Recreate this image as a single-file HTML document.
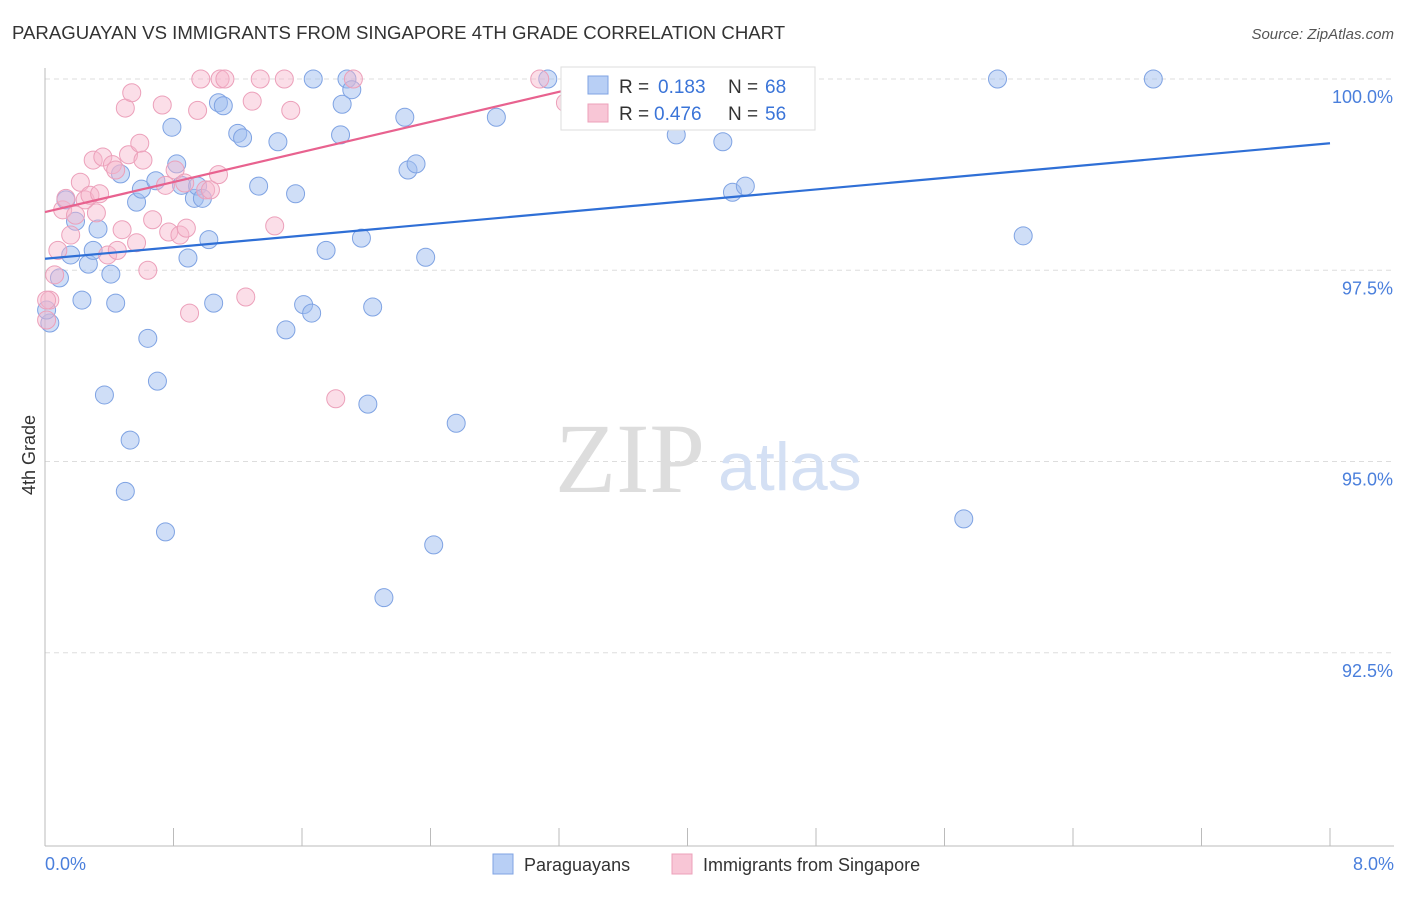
<!DOCTYPE html>
<html><head><meta charset="utf-8"><style>
body{margin:0;background:#fff;font-family:"Liberation Sans",sans-serif;}
</style></head><body>
<svg width="1406" height="892" xmlns="http://www.w3.org/2000/svg">
<text x="12" y="39" font-size="18.6" fill="#333">PARAGUAYAN VS IMMIGRANTS FROM SINGAPORE 4TH GRADE CORRELATION CHART</text>
<text x="1394" y="39" font-size="15" fill="#555" font-style="italic" text-anchor="end">Source: ZipAtlas.com</text>
<g id="grid"></g>
<line x1="45" y1="68" x2="45" y2="846" stroke="#bbb"/>
<line x1="45" y1="846" x2="1394" y2="846" stroke="#bbb"/>
<text x="35" y="455" font-size="18" fill="#333" transform="rotate(-90 35 455)" text-anchor="middle">4th Grade</text>
<text x="45" y="870" font-size="18" fill="#4a7fdc">0.0%</text>
<text x="1394" y="870" font-size="18" fill="#4a7fdc" text-anchor="end">8.0%</text>
<text x="555" y="492" font-size="100" fill="#ddd" font-family="Liberation Serif,serif">ZIP</text>
<text x="718" y="490" font-size="68" fill="#d4e0f4">atlas</text>
<g id="pts"></g>
<g id="lines"></g>
<g>
<rect x="561" y="67" width="254" height="63" fill="#fff" stroke="#ddd"/>
<rect x="588" y="76" width="20" height="18" fill="#b8cff5" stroke="#7fa3e3"/>
<text x="619" y="93" font-size="19" fill="#333">R =</text>
<text x="658" y="93" font-size="19" fill="#3a74d8">0.183</text>
<text x="728" y="93" font-size="19" fill="#333">N =</text>
<text x="765" y="93" font-size="19" fill="#3a74d8">68</text>
<rect x="588" y="104" width="20" height="18" fill="#f8c6d6" stroke="#eca0ba"/>
<text x="619" y="120" font-size="19" fill="#333">R =</text>
<text x="654" y="120" font-size="19" fill="#3a74d8">0.476</text>
<text x="728" y="120" font-size="19" fill="#333">N =</text>
<text x="765" y="120" font-size="19" fill="#3a74d8">56</text>
</g>
<g>
<rect x="493" y="854" width="20" height="20" fill="#b8cff5" stroke="#7fa3e3"/>
<text x="524" y="871" font-size="18" fill="#333">Paraguayans</text>
<rect x="672" y="854" width="20" height="20" fill="#f8c6d6" stroke="#eca0ba"/>
<text x="703" y="871" font-size="18" fill="#333">Immigrants from Singapore</text>
</g>
</svg>
<script>
const yTicks=[100,97.5,95,92.5];
const yTickLabels=["100.0%","97.5%","95.0%","92.5%"];
const xTicks=[0,0.8,1.6,2.4,3.2,4,4.8,5.6,6.4,7.2,8];
const blueX=[0.03,0.09,0.13,0.16,0.19,0.23,0.27,0.30,0.33,0.37,0.41,0.44,0.47,0.50,0.53,0.57,0.60,0.64,0.69,0.70,0.75,0.79,0.82,0.85,0.89,0.93,0.95,0.98,1.02,1.05,1.08,1.11,1.20,1.23,1.33,1.45,1.50,1.56,1.61,1.66,1.67,1.75,1.84,1.85,1.88,1.91,1.97,2.01,2.04,2.11,2.24,2.26,2.31,2.37,2.42,2.56,2.81,3.13,3.41,3.93,4.22,4.28,4.36,5.72,5.93,6.09,6.90,0.01];
const blueY=[96.81,97.40,98.42,97.70,98.14,97.11,97.58,97.76,98.04,95.87,97.45,97.07,98.76,94.61,95.28,98.39,98.56,96.61,98.67,96.05,94.08,99.37,98.89,98.61,97.66,98.44,98.60,98.44,97.90,97.07,99.69,99.65,99.29,99.23,98.60,99.18,96.72,98.50,97.05,96.94,100,97.76,99.27,99.67,100,99.86,97.92,95.75,97.02,93.22,99.50,98.81,98.89,97.67,93.91,95.50,99.50,100,99.69,99.27,99.18,98.52,98.60,94.25,100,97.95,100,96.98];
const pinkX=[0.01,0.03,0.06,0.08,0.11,0.13,0.16,0.19,0.22,0.25,0.28,0.30,0.32,0.34,0.36,0.39,0.42,0.44,0.45,0.48,0.50,0.52,0.54,0.57,0.59,0.61,0.64,0.67,0.73,0.75,0.77,0.81,0.84,0.87,0.88,0.90,0.95,0.97,1.00,1.03,1.08,1.09,1.12,1.25,1.29,1.34,1.43,1.49,1.53,1.81,1.92,3.08,3.24,3.68,4.61,0.01];
const pinkY=[96.85,97.11,97.44,97.76,98.29,98.44,97.96,98.22,98.65,98.42,98.48,98.94,98.25,98.50,98.98,97.70,98.88,98.81,97.76,98.03,99.62,99.01,99.82,97.86,99.16,98.94,97.50,98.16,99.66,98.61,98.00,98.81,97.96,98.64,98.05,96.94,99.59,100,98.55,98.55,98.75,100,100,97.15,99.71,100,98.08,100,99.59,95.82,100,100,99.69,100,100,97.11];
const blueLine=[0,97.65,8,99.16];
const pinkLine=[0,98.26,3.46,99.96];
const NS="http://www.w3.org/2000/svg";
const sx=v=>45+v/8*1285, sy=v=>79+(100-v)*76.5;
function mk(t,a,p){const e=document.createElementNS(NS,t);for(const k in a)e.setAttribute(k,a[k]);document.getElementById(p).appendChild(e);return e;}
yTicks.forEach((t,i)=>{
 const l=mk('line',{x1:45,x2:1394,y1:sy(t),y2:sy(t),stroke:'#ddd','stroke-dasharray':'5,4'},'grid');
 
 
 const tx=mk('text',{x:1393,y:sy(t)+24,'font-size':18,fill:'#4a7fdc','text-anchor':'end'},'grid');tx.textContent=yTickLabels[i];
 
 
});
xTicks.forEach(t=>{
 const l=mk('line',{x1:sx(t),x2:sx(t),y1:828,y2:846,stroke:'#bbb'},'grid');
 
 
});
blueX.forEach((x,i)=>{
 const c=mk('circle',{cx:sx(x),cy:sy(blueY[i]),r:9,fill:'rgba(160,190,240,0.5)',stroke:'#7fa3e3','stroke-width':1},'pts');
 
 
});
pinkX.forEach((x,i)=>{
 const c=mk('circle',{cx:sx(x),cy:sy(pinkY[i]),r:9,fill:'rgba(246,182,204,0.45)',stroke:'#eca0ba','stroke-width':1},'pts');
 
 
});
const bl=mk('line',{x1:sx(blueLine[0]),y1:sy(blueLine[1]),x2:sx(blueLine[2]),y2:sy(blueLine[3]),stroke:'#2f6fd6','stroke-width':2.2},'lines');


const pl=mk('line',{x1:sx(pinkLine[0]),y1:sy(pinkLine[1]),x2:sx(pinkLine[2]),y2:sy(pinkLine[3]),stroke:'#e8628f','stroke-width':2.2},'lines');


</script>
</body></html>
